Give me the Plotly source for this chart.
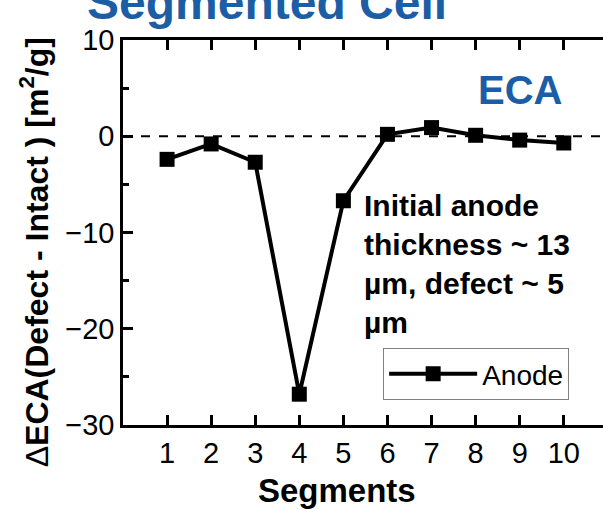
import plotly.graph_objects as go

# ECA change per segment (defect minus intact), m^2/g
segments = [1, 2, 3, 4, 5, 6, 7, 8, 9, 10]
delta_eca = [-2.4, -0.8, -2.7, -26.8, -6.7, 0.2, 0.9, 0.1, -0.4, -0.7]
y_ticks = [-30, -20, -10, 0, 10]

FONT = "Liberation Sans, Arial, sans-serif"
BLUE = "#1b5ea6"

fig = go.Figure()
fig.add_trace(go.Scatter(
    x=segments, y=delta_eca, name="Anode",
    mode="lines+markers",
    line=dict(color="black", width=4),
    marker=dict(symbol="square", size=15, color="black"),
))

fig.add_hline(y=0, line=dict(color="black", width=2, dash="dash"))

axis_common = dict(
    showline=True, linecolor="black", linewidth=2.5,
    ticks="inside", ticklen=10, tickwidth=2.5, tickcolor="black",
    showgrid=False, zeroline=False,
    tickfont=dict(family=FONT, size=29, color="black"),
)

fig.update_layout(
    width=603, height=509,
    margin=dict(l=123, r=0, t=40, b=84),
    plot_bgcolor="white", paper_bgcolor="white",
    showlegend=True,
    legend=dict(
        x=0.542, y=0.065, xanchor="left", yanchor="bottom",
        bordercolor="#7f7f7f", borderwidth=1, bgcolor="white",
        itemwidth=88,
        font=dict(family=FONT, size=28, color="black"),
    ),
    xaxis=dict(
        range=[0, 10.89], tickvals=segments, mirror="ticks",
        **axis_common,
    ),
    yaxis=dict(
        range=[-30, 10], tickvals=y_ticks,
        minor=dict(dtick=5, ticks="inside", ticklen=6, tickwidth=2.5, tickcolor="black"),
        **axis_common,
    ),
    yaxis2=dict(
        overlaying="y", side="right", anchor="x", range=[-30, 10],
        tickvals=y_ticks, showticklabels=False, showline=False,
        ticks="inside", ticklen=10, tickwidth=2.5, tickcolor="black",
        minor=dict(dtick=5, ticks="inside", ticklen=6, tickwidth=2.5, tickcolor="black"),
        showgrid=False, zeroline=False,
    ),
)

fig.add_annotation(
    text="<b>Segmented Cell</b>", xref="paper", yref="paper",
    x=0.3, y=1.098, xanchor="center", yanchor="middle", showarrow=False,
    font=dict(family=FONT, size=48, color=BLUE),
)
fig.add_annotation(
    text="<b>ECA</b>", xref="paper", yref="paper",
    x=0.827, y=0.869, xanchor="center", yanchor="middle", showarrow=False,
    font=dict(family=FONT, size=40, color=BLUE),
)
fig.add_annotation(
    text="<b>Initial anode<br>thickness ~ 13<br>µm, defect ~ 5<br>µm</b>",
    xref="paper", yref="paper",
    x=0.498, y=0.418, xanchor="left", yanchor="middle", align="left",
    showarrow=False,
    font=dict(family=FONT, size=30, color="black"),
)
fig.add_annotation(
    text="<b><span style='font-weight:normal'>Δ</span>ECA(Defect - Intact ) [m<sup>2</sup>/g]</b>",
    xref="paper", yref="paper", x=-0.185, y=0.449,
    xanchor="center", yanchor="middle", textangle=-90, showarrow=False,
    font=dict(family=FONT, size=32, color="black"),
)
fig.add_annotation(
    text="<b>Segments</b>", xref="paper", yref="paper", x=0.446, y=-0.169,
    xanchor="center", yanchor="middle", showarrow=False,
    font=dict(family=FONT, size=33, color="black"),
)

fig.write_html("out.html")
